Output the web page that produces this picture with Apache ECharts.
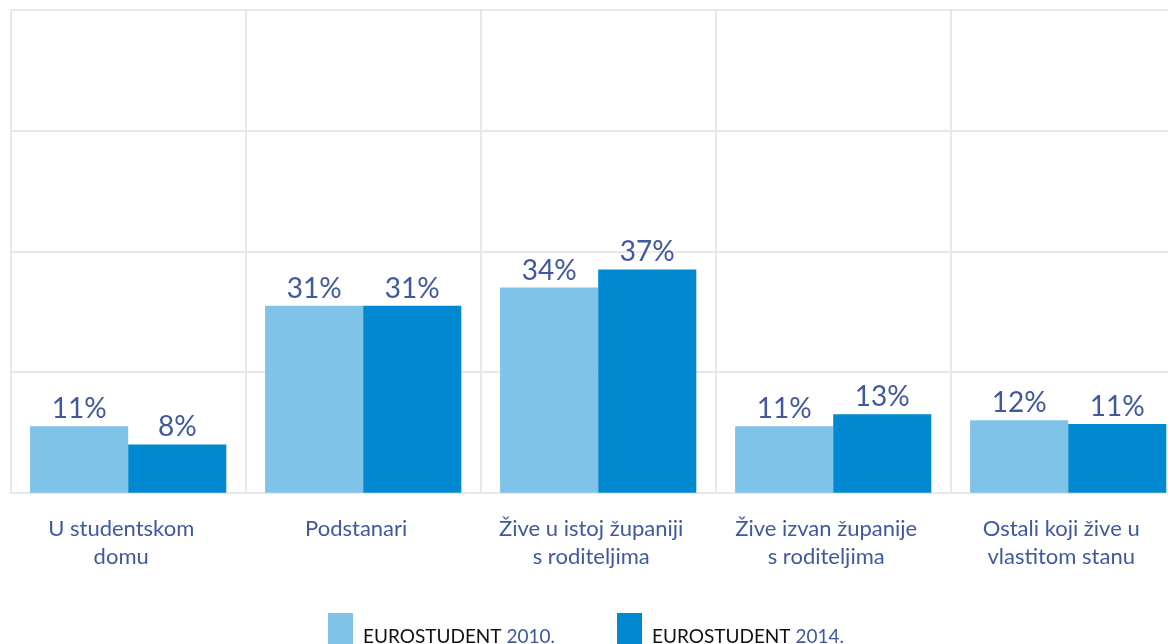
<!DOCTYPE html>
<html>
<head>
<meta charset="utf-8">
<script src="https://cdn.jsdelivr.net/npm/echarts@6/dist/echarts.min.js"></script>
<style>
html,body{margin:0;padding:0;background:#fff;overflow:hidden;width:1168px;height:644px;}
#c{width:1190px;height:644px;}
</style>
</head>
<body>
<div id="c"></div>
<script>
const categories = ["U studentskom\ndomu", "Podstanari", "Žive u istoj županiji\ns roditeljima", "Žive izvan županije\ns roditeljima", "Ostali koji žive u\nvlastitom stanu"];
const seriesNames = ["EUROSTUDENT 2010.", "EUROSTUDENT 2014."];
const values2010 = [11, 31, 34, 11, 12];
const values2014 = [8, 31, 37, 13, 11.4];

const chart = echarts.init(document.getElementById('c'), null, {renderer: 'canvas'});
const labelColor = '#3f58a0';
const gridColor = '#e8e8e8';
const font = 'Lato, "Open Sans", sans-serif';

function barLabel() {
  return {
    show: true, position: 'top', distance: 3,
    fontFamily: font, fontSize: 28, color: labelColor,
    formatter: p => Math.round(p.value) + '%'
  };
}

chart.setOption({
  animation: false,
  backgroundColor: '#fff',
  grid: {left: 10.7, right: 4.3, top: 10, bottom: 151.3, containLabel: false},
  xAxis: {
    type: 'category', data: categories, boundaryGap: true,
    axisLine: {show: true, lineStyle: {color: gridColor, width: 2}},
    axisTick: {show: false},
    splitLine: {show: true, lineStyle: {color: gridColor, width: 2}},
    axisLabel: {interval: 0, margin: 22, fontFamily: font, fontSize: 22, color: labelColor, lineHeight: 28, verticalAlign: 'top', padding: [0, 14, 0, 0]}
  },
  yAxis: {
    type: 'value', min: 0, max: 80, interval: 20,
    axisLine: {show: false}, axisTick: {show: false}, axisLabel: {show: false},
    splitLine: {show: true, lineStyle: {color: gridColor, width: 2}}
  },
  legend: {
    data: seriesNames, left: 328, top: 613, itemWidth: 25, itemHeight: 36, itemGap: 62,
    icon: 'rect', padding: 0,
    formatter: name => {
      const i = name.lastIndexOf(' ');
      return name.slice(0, i + 1) + '{y|' + name.slice(i + 1) + '}';
    },
    textStyle: {
      fontFamily: font, fontSize: 19, color: '#111', padding: [11, 0, 0, 5],
      rich: {y: {fontFamily: font, fontSize: 19, color: labelColor}}
    }
  },
  series: [
    {name: seriesNames[0], type: 'bar', data: values2010, barGap: '0%', barCategoryGap: '16.5%',
     itemStyle: {color: '#7fc3e8'}, label: barLabel()},
    {name: seriesNames[1], type: 'bar', data: values2014, barGap: '0%', barCategoryGap: '16.5%',
     itemStyle: {color: '#0088d1'}, label: barLabel()}
  ]
});
</script>
</body>
</html>
